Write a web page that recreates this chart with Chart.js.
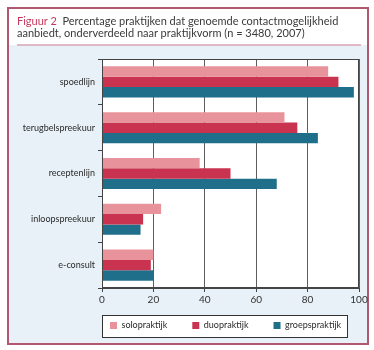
<!DOCTYPE html>
<html><head><meta charset="utf-8">
<script src="https://cdn.jsdelivr.net/npm/chart.js@4/dist/chart.umd.min.js"></script>
<style>
html,body{margin:0;padding:0;background:#fff;}
#wrap{position:relative;width:374px;height:350px;}
canvas{position:absolute;left:0;top:0;}
#title{position:absolute;left:17px;top:15px;font:11px Lato, sans-serif;color:#3a3a3a;line-height:12px;white-space:nowrap;}
#title .fig{color:#c7395b;}
</style></head><body>
<div id="wrap"><canvas id="c" width="374" height="350"></canvas>
<div id="title"><span class="fig">Figuur 2</span>&nbsp; Percentage praktijken dat genoemde contactmogelijkheid<br>aanbiedt, onderverdeeld naar praktijkvorm (n = 3480, 2007)</div></div>
<script>
const categories = ['spoedlijn', 'terugbelspreekuur', 'receptenlijn', 'inloopspreekuur', 'e-consult'];
const seriesNames = ['solopraktijk', 'duopraktijk', 'groepspraktijk'];
const solo = [88, 71, 38, 23, 20];
const duo = [92, 76, 50, 16, 19];
const groep = [98, 84, 68, 15, 20];
const xTicks = [0, 20, 40, 60, 80, 100];
const colors = ['#e8939b', '#c9334f', '#1f6f8b'];

const framePlugin = {
  id: 'frame',
  beforeDraw(chart) {
    const c = chart.ctx, a = chart.chartArea;
    // place the legend inside its framed box
    const lg = chart.legend;
    if (lg) { lg.left = 85; lg.right = 600; lg.top = 296; }
    c.save();
    c.fillStyle = '#ffffff'; c.fillRect(0, 0, 374, 350);
    c.fillStyle = '#e7f1f7'; c.fillRect(8, 45, 360, 299);
    c.strokeStyle = '#b3566f'; c.lineWidth = 2; c.strokeRect(8, 8, 360, 336);
    c.strokeStyle = '#d9a3b3'; c.lineWidth = 1.5;
    c.beginPath(); c.moveTo(17, 45); c.lineTo(361, 45); c.stroke();
    c.fillStyle = '#ffffff'; c.fillRect(a.left, a.top, a.right - a.left, a.bottom - a.top);
    // legend frame
    c.fillStyle = '#ffffff'; c.fillRect(102, 315, 245, 22);
    c.strokeStyle = '#333'; c.lineWidth = 1; c.strokeRect(102.5, 315.5, 245, 22);
    c.restore();
  },
  afterDatasetsDraw(chart) {
    const c = chart.ctx, a = chart.chartArea;
    c.save();
    c.strokeStyle = '#444'; c.lineWidth = 1;
    c.strokeRect(Math.round(a.left) + 0.5, Math.round(a.top) + 0.5, Math.round(a.right - a.left) - 1, Math.round(a.bottom - a.top) - 1);
    c.restore();
  }
};

const series = [solo, duo, groep];
new Chart(document.getElementById('c'), {
  type: 'bar',
  data: {
    labels: categories,
    datasets: series.map((d, i) => ({ label: seriesNames[i], data: d, backgroundColor: colors[i], borderWidth: 0 }))
  },
  options: {
    indexAxis: 'y',
    responsive: false,
    animation: false,
    devicePixelRatio: 1,
    layout: { padding: { left: 0, right: 15, top: 59, bottom: 0 } },
    datasets: { bar: { categoryPercentage: 0.68, barPercentage: 1 } },
    scales: {
      x: {
        min: 0, max: 100,
        afterBuildTicks: s => { s.ticks = xTicks.map(v => ({ value: v })); },
        grid: { color: '#5e5e5e', lineWidth: 1, tickLength: 4, tickColor: '#444' },
        border: { color: '#444' },
        ticks: { font: { family: 'Lato', size: 10 }, color: '#333', padding: 2, maxRotation: 0 },
        afterFit: s => { s.height = 20; }
      },
      y: {
        grid: { drawOnChartArea: false, tickLength: 4, color: '#444', offset: true },
        border: { color: '#444' },
        ticks: { font: { family: 'Lato', size: 9 }, color: '#2a2a2a', padding: 3 },
        afterFit: s => { s.width = 102; }
      }
    },
    plugins: {
      legend: {
        position: 'bottom', align: 'start', maxHeight: 42,
        labels: { boxWidth: 7, boxHeight: 7, padding: 25, font: { family: 'Lato', size: 9 }, color: '#2a2a2a' }
      },
      tooltip: { enabled: false }
    }
  },
  plugins: [framePlugin]
});
</script>
</body></html>
